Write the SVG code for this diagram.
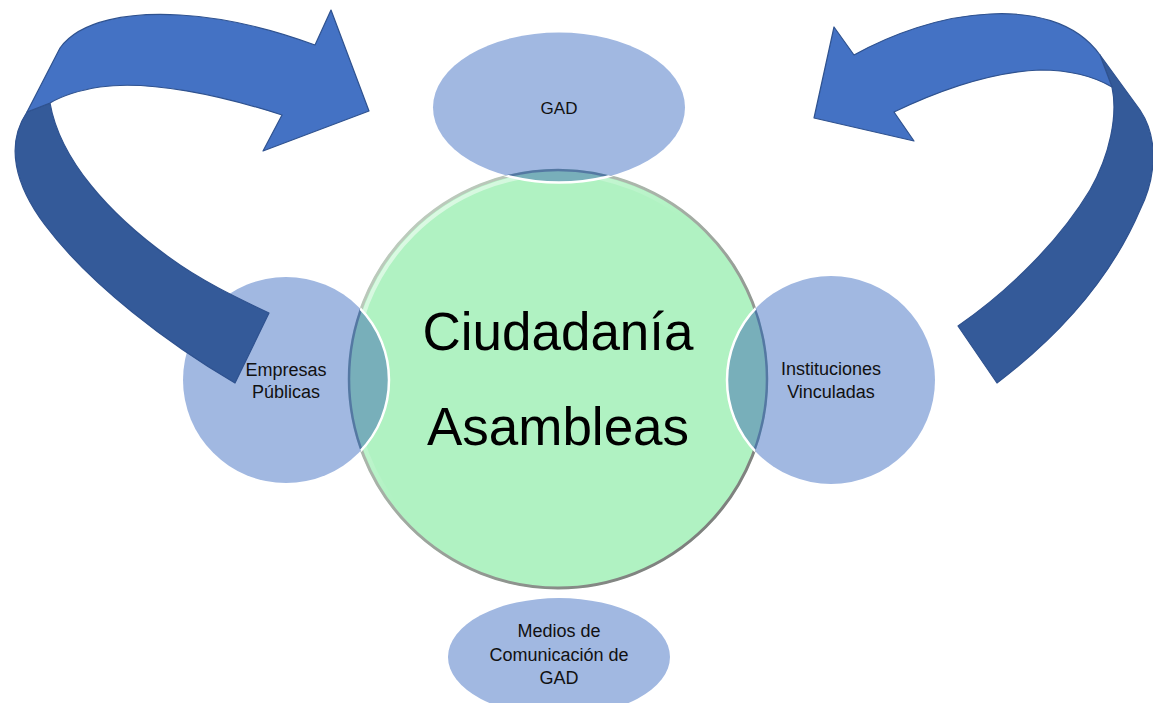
<svg xmlns="http://www.w3.org/2000/svg" width="1153" height="703" viewBox="0 0 1153 703">
<style>
.sat{fill:#A1B8E1;}
.lap{fill:#78AFBA;}
.lbl{font-family:"Liberation Sans",Arial,sans-serif;font-size:18px;fill:#111;text-anchor:middle;}
.big{font-family:"Liberation Sans",Arial,sans-serif;font-size:53px;fill:#000;text-anchor:middle;}
.arL{fill:#4472C4;stroke:#2F528F;stroke-width:1.2;stroke-linejoin:round;}
.arD{fill:#345A99;stroke:#2F528F;stroke-width:1.2;stroke-linejoin:round;}
</style>
<defs>
<clipPath id="cCentral"><circle cx="558" cy="379" r="210"/></clipPath>
<clipPath id="cSats">
<ellipse cx="559" cy="107.5" rx="126" ry="75"/>
<circle cx="286" cy="380" r="103"/>
<circle cx="831" cy="380" r="104"/>
<ellipse cx="559" cy="657" rx="111" ry="59"/>
</clipPath>
<linearGradient id="edge" x1="0" y1="0" x2="1" y2="1">
<stop offset="0" stop-color="#c8d8c8"/>
<stop offset="0.5" stop-color="#a0a8a0"/>
<stop offset="1" stop-color="#707070"/>
</linearGradient>
<linearGradient id="hi" x1="0" y1="0" x2="1" y2="1">
<stop offset="0" stop-color="#ffffff" stop-opacity="0.8"/>
<stop offset="0.45" stop-color="#ffffff" stop-opacity="0"/>
</linearGradient>
</defs>
<rect width="1153" height="703" fill="#ffffff"/>

<g id="node-central">
<circle cx="558" cy="379" r="210" fill="#B0F2C2"/>
<circle cx="558" cy="379" r="205" fill="none" stroke="url(#hi)" stroke-width="4"/>
<circle cx="558" cy="379" r="209" fill="none" stroke="url(#edge)" stroke-width="3"/>
</g>

<g id="node-gad"><ellipse class="sat" cx="559" cy="107.5" rx="126" ry="75"/></g>
<g id="node-empresas"><circle class="sat" cx="286" cy="380" r="103"/></g>
<g id="node-instituciones"><circle class="sat" cx="831" cy="380" r="104"/></g>
<g id="node-medios"><ellipse class="sat" cx="559" cy="657" rx="111" ry="59"/></g>

<g id="overlaps">
<g clip-path="url(#cCentral)">
<ellipse class="lap" cx="559" cy="107.5" rx="126" ry="75"/>
<circle class="lap" cx="286" cy="380" r="103"/>
<circle class="lap" cx="831" cy="380" r="104"/>
<ellipse class="lap" cx="559" cy="657" rx="111" ry="59"/>
</g>
<g clip-path="url(#cSats)">
<circle cx="558" cy="379" r="209" fill="none" stroke="#4B6A9C" stroke-width="2.5" opacity="0.8"/>
</g>
<g clip-path="url(#cCentral)" fill="none" stroke="#ffffff" stroke-width="2.5">
<ellipse cx="559" cy="107.5" rx="126" ry="75"/>
<circle cx="286" cy="380" r="103"/>
<circle cx="831" cy="380" r="104"/>
<ellipse cx="559" cy="657" rx="111" ry="59"/>
</g>
</g>

<g id="connectors">
<g id="arrow-left">
<path class="arD" d="M 50,103 C 60,160 110,215 170,258 C 200,280 235,297 269,313 L 235,383 C 170,345 90,285 45,225 C 15,185 5,145 27,112 Z"/>
<path class="arL" d="M 27,112 L 60,48 C 80,20 130,12 180,15 C 230,18 280,32 315,45 L 331,10 L 369,111 L 263,151 L 282,115 C 220,95 150,80 100,87 C 75,91 60,97 50,103 Z"/>
</g>
<g id="arrow-right">
<path class="arD" d="M 1100,55 L 1140,110 C 1160,140 1155,180 1140,210 C 1110,280 1060,335 997,383 L 958,326 C 1010,290 1060,240 1090,190 C 1110,155 1118,115 1112,87 Z"/>
<path class="arL" d="M 1100,55 C 1075,20 1030,12 990,14 C 940,16 890,35 854,55 L 834,27 L 814,118 L 914,141 L 894,112 C 940,90 990,72 1040,70 C 1070,70 1095,77 1112,87 Z"/>
</g>
</g>

<g id="labels">
<text class="big" x="558" y="350">Ciudadanía</text>
<text class="big" x="558" y="445">Asambleas</text>
<text class="lbl" x="559" y="114" style="font-size:17px">GAD</text>
<text class="lbl" x="286" y="376">Empresas</text>
<text class="lbl" x="286" y="398">Públicas</text>
<text class="lbl" x="831" y="375">Instituciones</text>
<text class="lbl" x="831" y="398">Vinculadas</text>
<text class="lbl" x="559" y="637">Medios de</text>
<text class="lbl" x="559" y="661">Comunicación de</text>
<text class="lbl" x="559" y="684">GAD</text>
</g>
</svg>
